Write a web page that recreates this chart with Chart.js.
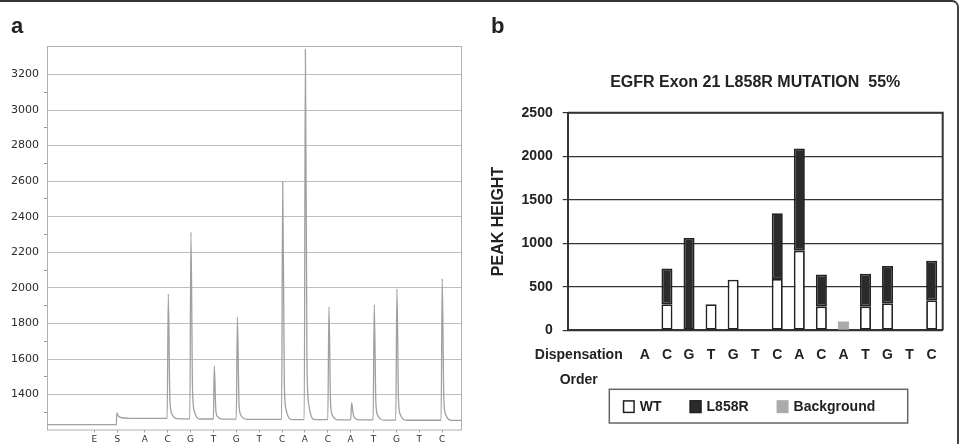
<!DOCTYPE html>
<html>
<head>
<meta charset="utf-8">
<script src="https://cdn.jsdelivr.net/npm/chart.js@4.4.1/dist/chart.umd.min.js"></script>
<style>
  body { margin: 0; background: #fff; }
  #wrap { position: relative; width: 959px; height: 444px; overflow: hidden; }
  #frame { position: absolute; left: 0; top: 0; width: 959px; height: 470px; box-sizing: border-box;
           border-top: 2px solid #333; border-right: 2px solid #444; border-top-right-radius: 7px;
           pointer-events: none; }
  canvas { position: absolute; top: 0; }
  #pyro { left: 0; }
  #peaks { left: 480px; }
</style>
</head>
<body>
<div id="wrap">
  <canvas id="pyro" width="480" height="444"></canvas>
  <canvas id="peaks" width="477" height="444"></canvas>
  <div id="frame"></div>
</div>
<script>
// ---- panel a: pyrogram ----
const dispOrder = ['E', 'S', 'A', 'C', 'G', 'T', 'G', 'T', 'C', 'A', 'C', 'A', 'T', 'G', 'T', 'C'];
const dispTime = [-0.2, 0.8, 2, 3, 4, 5, 6, 7, 8, 9, 10, 11, 12, 13, 14, 15];

// [time, signal]
const trace = [
  [-2.27, 1231], [0.76, 1231], [0.78, 1298], [0.85, 1280], [1.0, 1270], [1.4, 1267],
  [2.98, 1266], [3.03, 1967], [3.10, 1371], [3.18, 1294], [3.40, 1265],
  [3.97, 1264], [4.02, 2314], [4.09, 1421], [4.17, 1306], [4.40, 1263],
  [5.00, 1263], [5.04, 1561], [5.11, 1308], [5.19, 1275], [5.40, 1262],
  [6.00, 1262], [6.05, 1836], [6.12, 1348], [6.20, 1285], [6.45, 1261],
  [7.98, 1261], [8.03, 2597], [8.10, 1461], [8.18, 1314], [8.45, 1260],
  [8.97, 1260], [9.02, 3341], [9.09, 1572], [9.17, 1343], [9.45, 1259],
  [10.00, 1259], [10.05, 1893], [10.12, 1354], [10.20, 1284], [10.45, 1258],
  [11.00, 1258], [11.04, 1353], [11.11, 1290], [11.20, 1266], [11.40, 1258],
  [11.98, 1258], [12.03, 1906], [12.10, 1355], [12.18, 1284], [12.45, 1257],
  [12.97, 1257], [13.02, 1995], [13.09, 1368], [13.17, 1287], [13.45, 1256],
  [14.95, 1256], [15.00, 2052], [15.07, 1375], [15.15, 1288], [15.40, 1255], [15.82, 1255]
];

// ---- panel b: peak heights ----
const categories = [['Dispensation', 'Order'], '', '', 'A', 'C', 'G', 'T', 'G', 'T', 'C', 'A', 'C', 'A', 'T', 'G', 'T', 'C'];
const wtHeight   = [null, null, null, null, 300, null, 300, 580, null, 590, 915, 275, null, 275, 310, null, 345];
const mutHeight  = [null, null, null, null, 410, 1060, null, null, null, 755, 1175, 365, null, 375, 430, null, 455];
const bgHeight   = [null, null, null, null, null, null, null, null, null, null, null, null, 100, null, null, null, null];

const ARIAL = '"Liberation Sans", Arial, sans-serif';

const panelA = {
  id: 'panelA',
  beforeDatasetsDraw(chart) {
    const { ctx, chartArea: a } = chart;
    ctx.save();
    ctx.strokeStyle = '#b0b0b0';
    ctx.lineWidth = 1;
    ctx.strokeRect(a.left + 0.5, a.top + 0.5, a.right - a.left, a.bottom - a.top);
    ctx.restore();
  },
  afterDraw(chart) {
    const ctx = chart.ctx;
    ctx.save();
    ctx.fillStyle = '#222';
    ctx.font = 'bold 22px ' + ARIAL;
    ctx.fillText('a', 11, 33);
    ctx.restore();
  }
};

new Chart(document.getElementById('pyro'), {
  type: 'line',
  data: {
    datasets: [{
      data: trace.map(p => ({ x: p[0], y: p[1] })),
      borderColor: '#a0a0a0',
      borderWidth: 1.3,
      pointRadius: 0,
      cubicInterpolationMode: 'monotone',
      fill: false
    }]
  },
  options: {
    responsive: false,
    animation: false,
    devicePixelRatio: 1,
    layout: { padding: { top: 46, right: 19, left: 0, bottom: 0 } },
    plugins: { legend: { display: false }, tooltip: { enabled: false } },
    scales: {
      x: {
        type: 'linear',
        min: -2.27,
        max: 15.82,
        afterBuildTicks: s => { s.ticks = dispTime.map(v => ({ value: v })); },
        afterFit: s => { s.height = 14.5; },
        grid: { drawOnChartArea: false, tickLength: 3, color: '#a0a0a0' },
        border: { display: false },
        ticks: {
          autoSkip: false, maxRotation: 0, padding: 2, color: '#333',
          font: { family: 'DejaVu Sans', size: 9 },
          callback: (v, i) => dispOrder[i]
        }
      },
      y: {
        min: 1204,
        max: 3360,
        afterBuildTicks: s => { s.ticks = s.ticks.filter(t => t.value % 100 === 0); },
        afterFit: s => { s.width = 47; },
        grid: {
          color: c => (c.tick && c.tick.value % 200 === 0) ? '#bdbdbd' : 'rgba(0,0,0,0)',
          tickColor: c => (c.tick && c.tick.value % 200 === 0) ? 'rgba(0,0,0,0)' : '#999',
          tickLength: 3
        },
        border: { display: false },
        ticks: {
          stepSize: 100, autoSkip: false, padding: 5, color: '#2a2a2a',
          font: { family: 'DejaVu Sans', size: 11 },
          callback: v => v % 200 === 0 ? String(v) : ''
        }
      }
    }
  },
  plugins: [panelA]
});

const panelB = {
  id: 'panelB',
  afterDraw(chart) {
    const { ctx, chartArea: a } = chart;
    ctx.save();
    // top and right frame of the plot box
    ctx.strokeStyle = '#333';
    ctx.lineWidth = 2;
    ctx.beginPath();
    ctx.moveTo(a.left, a.top);
    ctx.lineTo(a.right, a.top);
    ctx.lineTo(a.right, a.bottom);
    ctx.stroke();

    ctx.fillStyle = '#222';
    ctx.font = 'bold 22px ' + ARIAL;
    ctx.fillText('b', 11, 33);

    ctx.font = 'bold 16px ' + ARIAL;
    ctx.textAlign = 'center';
    ctx.fillText('EGFR Exon 21 L858R MUTATION  55%', (a.left + a.right) / 2, 87);

    // legend box
    const lx = 129.3, ly = 389.3, lw = 298.4, lh = 33.7;
    ctx.strokeStyle = '#666';
    ctx.lineWidth = 1.5;
    ctx.strokeRect(lx, ly, lw, lh);
    ctx.font = 'bold 14px ' + ARIAL;
    ctx.textAlign = 'left';
    ctx.textBaseline = 'middle';
    let x = lx + 13.5;
    const cy = ly + lh / 2 + 0.5;
    chart.data.datasets.forEach(ds => {
      ctx.fillStyle = ds.backgroundColor;
      ctx.fillRect(x, cy - 6.5, 12, 13);
      if (ds.borderWidth) {
        ctx.strokeStyle = '#222';
        ctx.lineWidth = 1.5;
        ctx.strokeRect(x + 0.75, cy - 5.75, 10.5, 11.5);
      }
      ctx.fillStyle = '#222';
      ctx.fillText(ds.label, x + 17, cy);
      x += 17 + ctx.measureText(ds.label).width + 28;
    });
    ctx.restore();
  }
};

new Chart(document.getElementById('peaks'), {
  type: 'bar',
  data: {
    labels: categories,
    datasets: [
      { label: 'WT', data: wtHeight, backgroundColor: '#ffffff', borderColor: '#222', borderWidth: 1.8, borderSkipped: false },
      { label: 'L858R', data: mutHeight, backgroundColor: '#2b2b2b', borderColor: '#222', borderWidth: 1.8, borderSkipped: false },
      { label: 'Background', data: bgHeight, backgroundColor: '#ababab', borderWidth: 0 }
    ]
  },
  options: {
    responsive: false,
    animation: false,
    devicePixelRatio: 1,
    barPercentage: 0.5,
    categoryPercentage: 1,
    layout: { padding: { top: 112.7, right: 14.3, left: 0, bottom: 0 } },
    plugins: { legend: { display: false }, tooltip: { enabled: false } },
    scales: {
      x: {
        stacked: true,
        afterFit: s => { s.height = 113.7; },
        grid: { display: false, drawTicks: false },
        border: { color: '#333', width: 2 },
        ticks: {
          autoSkip: false, maxRotation: 0, padding: 12, color: '#222',
          font: { family: ARIAL, weight: 'bold', size: 14, lineHeight: 1.8 }
        }
      },
      y: {
        stacked: true,
        min: 0,
        max: 2500,
        afterFit: s => { s.width = 87.7; },
        grid: { color: '#333', lineWidth: 1.2, tickLength: 5 },
        border: { color: '#333', width: 2 },
        ticks: {
          stepSize: 500, padding: 10, color: '#222',
          font: { family: ARIAL, weight: 'bold', size: 14 },
          callback: v => String(v)
        },
        title: {
          display: true, text: 'PEAK HEIGHT', color: '#222',
          font: { family: ARIAL, weight: 'bold', size: 16 },
          padding: { top: 9, bottom: 0 }
        }
      }
    }
  },
  plugins: [panelB]
});
</script>
</body>
</html>
